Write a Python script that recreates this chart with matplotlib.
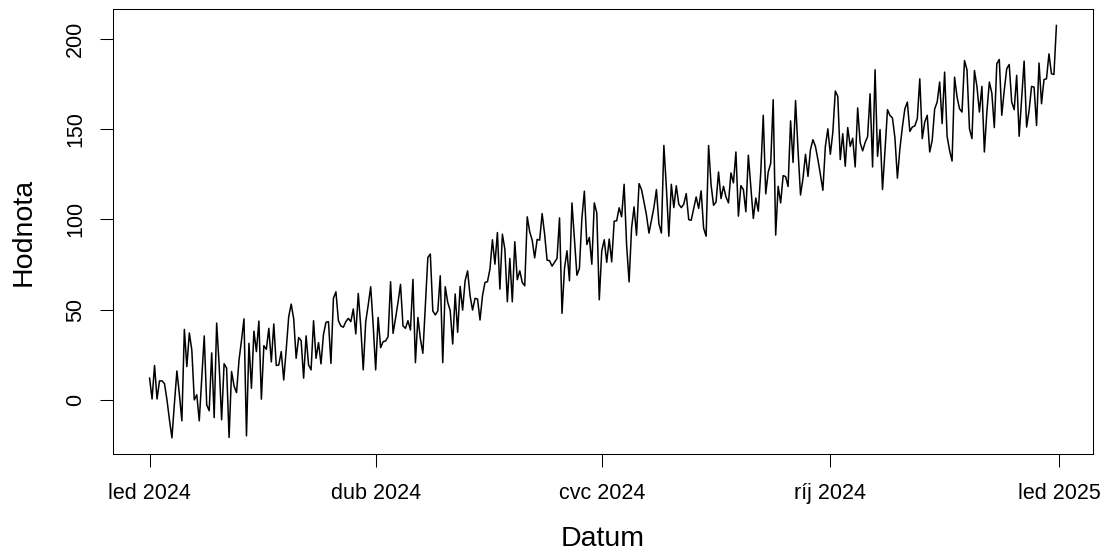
import numpy as np
import pandas as pd
import matplotlib
matplotlib.use("Agg")
import matplotlib.pyplot as plt
import matplotlib.dates as mdates

# daily values, split by quarter of 2024
q1_values = [
    12, 0.5, 19, 0.5, 10.5, 10.5, 9, 0, -11, -21,
    -2, 16, 3, -11.6, 39, 18.4, 37, 27.6, 0, 2.8,
    -11.6, 12, 35.4, -2.8, -6, 26, -9.8, 42.5, 19.3, -11,
    20, 17.6, -20.8, 15.7, 7.7, 4, 22, 33, 44.8, -19.9,
    31.3, 6.4, 38, 26.7, 43.6, 0.4, 30, 28, 39.6, 21,
    42, 19, 19.3, 26.7, 11, 28, 46, 53, 45, 23,
    34.5, 32.8, 12, 35.4, 19.3, 16.6, 43.8, 23, 31.7, 19.9,
    36.3, 42.9, 43.3, 20.2, 56.2, 59.8, 43.8, 40.9, 40.2, 43.3,
    45.1, 43.3, 50.3, 36.5, 58.9, 40.5, 16.6, 43.3, 52.5, 62.6,
    41.4,
]
q2_values = [
    16.6, 45.6, 28.9, 32.2, 32.6, 35, 65.4, 36.8, 45.1,
    54, 63.9, 40.9, 39.6, 43.8, 38.7, 66.7, 20.6, 45.6, 33.7,
    25.8, 52, 78.8, 80.7, 49.2, 47, 49.2, 68.7, 20.6, 62.6,
    54, 49.4, 30.9, 58.6, 37.4, 62.8, 49.7, 65.9, 71.4, 57.6,
    49.7, 56.2, 55.8, 44.2, 57.6, 65, 65.4, 72.4, 88.6, 75.1,
    92.6, 61.3, 91.7, 83.4, 54.3, 78.3, 54.3, 87.5, 66.5, 71.4,
    65, 63.1, 101.3, 93, 88.4, 78.6, 88.8, 88.4, 103.1, 91.7,
    77.3, 77, 74, 76.1, 78.3, 100.7, 47.9, 72.7, 82.5, 65.9,
    109, 89, 69, 72.7, 100.4, 115.5, 86, 89.9, 75.1, 109,
    103.5, 55.4,
]
q3_values = [
    82.5, 88.6, 76.1, 89, 76.4, 98.9, 99.1, 106.3,
    101.3, 119.3, 85.8, 65.3, 95, 106.8, 91.1, 119.7, 116.4, 109.5,
    102.2, 92.3, 99.3, 106.5, 116.4, 97.5, 92.3, 140.8, 117.8, 90.6,
    119.3, 106.4, 118.5, 108.3, 106.4, 108.3, 114.2, 99.8, 99.4, 105.8,
    112.3, 106, 115.7, 95, 90.6, 140.8, 119, 107.7, 109.5, 126.1,
    111.4, 118.2, 112.3, 109, 125.6, 120.1, 137.2, 101.7, 118.6, 116.4,
    104.1, 135.4, 117.8, 100.4, 111.7, 104.4, 126, 157.5, 114, 126.1,
    130.9, 166.1, 91.2, 118.2, 109, 124.1, 123.6, 118.1, 154.4, 131.4,
    165.7, 138.1, 113.4, 122.6, 135.9, 123.7, 138.5, 144, 140.3, 133,
    124.7, 116, 140.3, 150,
]
q4_values = [
    135.9, 148, 170.9, 168, 133, 147.3,
    129.3, 150.7, 140.3, 144.8, 128.9, 161.6, 142.4, 137.8, 142.4, 145.7,
    169.4, 128.9, 182.7, 134.8, 149.6, 116.4, 138, 160.6, 157.4, 156,
    145, 122.7, 139, 151, 161.1, 164.8, 148.6, 151, 151.6, 155.6,
    177.7, 144.6, 153.8, 157.5, 137.2, 143.6, 161.1, 164.8, 175.9, 152.9,
    181.4, 145.9, 138, 132.2, 178.6, 167.6, 161.1, 159.3, 187.8, 182.7,
    150.1, 144.6, 182.3, 173.5, 159.3, 173.5, 137.2, 159.3, 175.9, 169.8,
    150.7, 186, 188.4, 157.5, 171.3, 183.3, 185.6, 164.8, 160.6, 179.6,
    145.9, 166.7, 187.5, 151, 160.2, 173.5, 173.1, 151.9, 186.4, 163.9,
    177.3, 177.7, 191.5, 180.5, 180.1, 207.2,
]

tick_dates = ["2024-01-01", "2024-04-01", "2024-07-01", "2024-10-01", "2025-01-01"]
tick_labels = ["led 2024", "dub 2024", "cvc 2024", "ríj 2024", "led 2025"]
y_ticks = [0, 50, 100, 150, 200]

values = q1_values + q2_values + q3_values + q4_values
dates = pd.date_range("2024-01-01", periods=len(values), freq="D")

plt.rcParams['font.family'] = ['Liberation Sans', 'DejaVu Sans']

W, H = 1107, 556
fig = plt.figure(figsize=(W / 100, H / 100), dpi=100)
left, right, top, bottom = 113.3, 1092.7, 9.0, 454.3
ax = fig.add_axes([left / W, 1 - bottom / H, (right - left) / W, (bottom - top) / H])

ax.plot(dates, values, color='black', linewidth=1.1)
ax.margins(x=0.04, y=0.04)

ax.set_xticks(pd.to_datetime(tick_dates))
ax.set_xticklabels(tick_labels)
ax.set_yticks(y_ticks)
ax.set_yticklabels([str(v) for v in y_ticks], rotation=90, va='center')

ax.tick_params(axis='both', direction='out', length=9.4, width=0.75,
               labelsize=15.5, colors='black')
ax.tick_params(axis='x', pad=11)
ax.tick_params(axis='y', pad=10)
for s in ax.spines.values():
    s.set_linewidth(0.75)

ax.set_xlabel("Datum", fontsize=20.5, va='center')
ax.xaxis.set_label_coords(0.5, -0.19)
ax.set_ylabel("Hodnota", fontsize=20.5, va='center')
ax.yaxis.set_label_coords(-0.092, 0.5)

fig.savefig("out.png", dpi=100)
